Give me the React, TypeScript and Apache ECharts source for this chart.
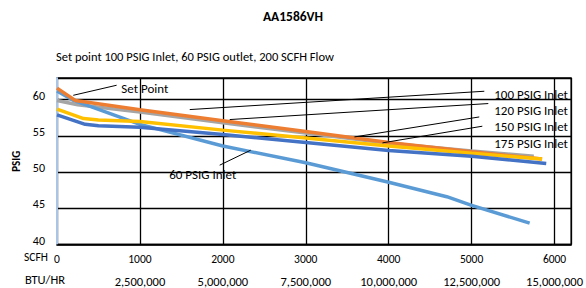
import React, { useEffect, useRef } from "react";
import * as echarts from "echarts";

const FONT = "Carlito, 'Liberation Sans', Arial, sans-serif";

const X_MAX = 6200;
const Y_MIN = 40;
const Y_MAX = 63;
const SCFH_STEP = 1000;
const BTU_PER_SCFH = 2500;
const PSIG_STEP = 5;

const titleText = "AA1586VH";
const subtitleText = "Set point 100 PSIG Inlet, 60 PSIG outlet, 200 SCFH Flow";

// [SCFH, PSIG]
const inlet100 = [[0, 61.6], [220, 59.9], [1000, 58.6], [2000, 57.1], [3000, 55.6], [4000, 54.1], [5000, 52.8], [5850, 51.8]];
const inlet120 = [[0, 59.9], [250, 59.3], [1000, 58.3], [2000, 56.8], [3000, 55.4], [4000, 54.0], [5000, 52.9], [5750, 52.2]];
const inlet150 = [[0, 58.7], [320, 57.4], [500, 57.2], [1000, 57.0], [2000, 55.8], [3000, 54.7], [4000, 53.6], [5000, 52.6], [5850, 51.8]];
const inlet175 = [[0, 57.9], [340, 56.6], [500, 56.4], [1000, 56.2], [2000, 55.2], [3000, 54.1], [4000, 53.0], [5000, 52.2], [5900, 51.2]];
const inlet60 = [[0, 61.2], [200, 59.9], [1000, 56.6], [2000, 53.6], [3000, 51.3], [4000, 48.6], [4700, 46.6], [5000, 45.4], [5700, 42.95]];

const seriesNames = ["120 PSIG Inlet", "60 PSIG Inlet", "100 PSIG Inlet", "150 PSIG Inlet", "175 PSIG Inlet"];
const seriesData = [inlet120, inlet60, inlet100, inlet150, inlet175];
const seriesColors = ["#A5A5A5", "#5B9BD5", "#ED7D31", "#FFC000", "#4472C4"];

// annotation labels: text, anchor [SCFH, PSIG], alignment, leader from, leader to
const annotTexts = ["Set Point", "100 PSIG Inlet", "120 PSIG Inlet", "150 PSIG Inlet", "175 PSIG Inlet", "60 PSIG Inlet"];
const annotAnchors = [[776, 61.54], [5273, 60.75], [5273, 58.45], [5273, 56.25], [5273, 54.0], [1758, 49.72]];
const annotAligns = ["left", "left", "left", "left", "left", "center"];
const leaderFrom = [[196, 60.61], [1601, 58.64], [2083, 57.26], [3588, 54.86], [3925, 54.04], [1962, 50.96]];
const leaderTo = [[719, 62.0], [5153, 61.17], [5201, 59.47], [5092, 57.62], [5129, 56.34], [2336, 53.03]];

const fmt = (v: number) => v.toLocaleString("en-US");

export default function App() {
  const ref = useRef<HTMLDivElement>(null);
  useEffect(() => {
    const el = ref.current;
    if (!el) return;
    const chart = echarts.init(el, undefined, { renderer: "svg" });
    const option: any = {
      animation: false,
      backgroundColor: "#fff",
      textStyle: { fontFamily: FONT },
      title: [
        {
          text: titleText,
          left: "center",
          top: 4,
          textStyle: { fontFamily: FONT, fontSize: 13.5, fontWeight: "bold", color: "#000" },
        },
        {
          text: subtitleText,
          left: 51,
          top: 45,
          textStyle: { fontFamily: FONT, fontSize: 12.5, fontWeight: "normal", color: "#000" },
        },
      ],
      grid: {
        left: 57,
        top: 78,
        right: 14,
        bottom: 43.5,
        show: true,
        borderColor: "#000",
        borderWidth: 1.3,
      },
      xAxis: [
        {
          type: "value",
          min: 0,
          max: X_MAX,
          interval: SCFH_STEP,
          axisLine: { show: true, lineStyle: { color: "#000", width: 1.5 } },
          axisTick: { show: false },
          splitLine: { show: true, lineStyle: { color: "#000", width: 1.3 } },
          axisLabel: {
            margin: 8,
            fontSize: 11.5,
            fontFamily: FONT,
            color: "#000",
            formatter: (v: number) => (v % SCFH_STEP === 0 ? String(v) : ""),
          },
        },
        {
          type: "value",
          position: "bottom",
          offset: 23,
          min: 0,
          max: X_MAX * BTU_PER_SCFH,
          interval: SCFH_STEP * BTU_PER_SCFH,
          axisLine: { show: false },
          axisTick: { show: false },
          splitLine: { show: false },
          axisLabel: {
            margin: 7,
            fontSize: 12.5,
            fontFamily: FONT,
            color: "#000",
            formatter: (v: number) => (v === 0 || v % (SCFH_STEP * BTU_PER_SCFH) !== 0 ? "" : fmt(v)),
          },
        },
      ],
      yAxis: {
        type: "value",
        min: Y_MIN,
        max: Y_MAX,
        interval: PSIG_STEP,
        name: "PSIG",
        nameLocation: "middle",
        nameRotate: 90,
        nameGap: 29,
        nameTextStyle: { fontFamily: FONT, fontSize: 11, fontWeight: "bold", color: "#000" },
        axisLine: { show: true, lineStyle: { color: "#A9C4E4", width: 2 } },
        axisTick: { show: false },
        splitLine: { show: true, lineStyle: { color: "#000", width: 1.3 } },
        axisLabel: {
          margin: 12,
          fontSize: 12,
          fontFamily: FONT,
          color: "#000",
          verticalAlign: "bottom",
          lineHeight: 8,
          formatter: (v: number) => (v % PSIG_STEP === 0 ? String(v) : ""),
        },
      },
      series: seriesData.map((d, i) => ({
        type: "line",
        name: seriesNames[i],
        data: d,
        xAxisIndex: 0,
        yAxisIndex: 0,
        showSymbol: false,
        symbol: "none",
        lineStyle: { color: seriesColors[i], width: 3.5 },
        itemStyle: { color: seriesColors[i] },
        z: 3 + i,
      })),
    };
    chart.setOption(option);

    const toPx = (p: number[]) => chart.convertToPixel({ gridIndex: 0 } as any, p) as number[];
    const graphics: any[] = [];
    leaderFrom.forEach((f, i) => {
      const a = toPx(f);
      const b = toPx(leaderTo[i]);
      graphics.push({
        type: "line",
        z: 100,
        shape: { x1: a[0], y1: a[1], x2: b[0], y2: b[1] },
        style: { stroke: "#000", lineWidth: 1 },
      });
    });
    annotTexts.forEach((t, i) => {
      const p = toPx(annotAnchors[i]);
      graphics.push({
        type: "text",
        z: 101,
        x: p[0],
        y: p[1],
        style: {
          text: t,
          fill: "#000",
          fontSize: 13,
          fontFamily: FONT,
          align: annotAligns[i],
          verticalAlign: "middle",
        },
      });
    });
    graphics.push({
      type: "text",
      left: 24,
      top: 251,
      style: { text: "SCFH", fill: "#000", fontSize: 11.5, fontFamily: FONT },
    });
    graphics.push({
      type: "text",
      left: 25,
      top: 273,
      style: { text: "BTU/HR", fill: "#000", fontSize: 12.5, fontFamily: FONT },
    });
    chart.setOption({ graphic: graphics });

    return () => chart.dispose();
  }, []);
  return (
    <div
      ref={ref}
      style={{ position: "fixed", left: 0, top: 0, width: 586, height: 288, background: "#fff" }}
    />
  );
}
